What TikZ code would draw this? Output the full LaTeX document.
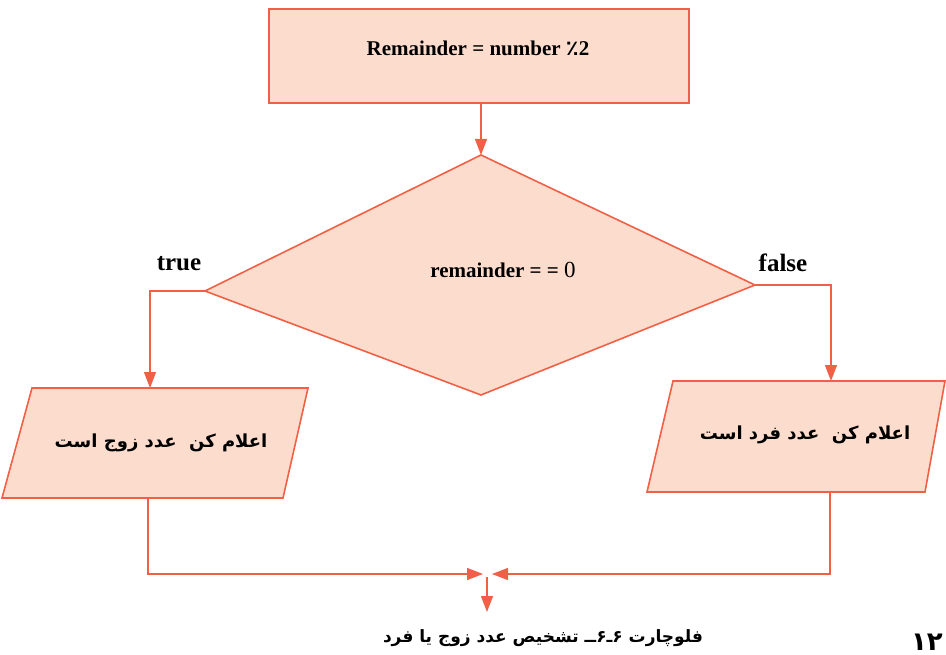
\documentclass[tikz,border=0pt]{standalone}
\usepackage{fontspec}
\setmainfont{Liberation Serif}
\newfontfamily\arabicfont[Script=Arabic]{DejaVu Sans}
\TeXXeTstate=1
\usetikzlibrary{arrows.meta}
\definecolor{fillc}{RGB}{252,221,205}
\definecolor{linec}{RGB}{240,96,70}
\begin{document}
\begin{tikzpicture}[x=1pt,y=-1pt,
  shapeline/.style={draw=linec,fill=fillc,line width=1.6pt,line join=miter},
  conn/.style={draw=linec,line width=1.4pt},
  arr/.style={conn,-{Triangle[length=16pt,width=12pt]}},
  lbl/.style={font=\fontsize{21}{24}\selectfont\bfseries,inner sep=0pt},
  tf/.style={font=\fontsize{25}{28}\selectfont\bfseries,inner sep=0pt},
  fa/.style={font=\arabicfont\fontsize{18}{21}\selectfont\bfseries,inner sep=0pt},
  captext/.style={font=\arabicfont\fontsize{17}{20}\selectfont\bfseries,inner sep=0pt}]
\useasboundingbox (0,0) rectangle (946,655);
% top box
\node[shapeline,anchor=north west,minimum width=420pt,minimum height=94pt,inner sep=0pt] (box) at (268,8) {};
\node[lbl] (boxtext) at (478,48) {Remainder = number {\arabicfont ٪}2};
% diamond
\coordinate (dT) at (481,155);
\coordinate (dR) at (755,285);
\coordinate (dB) at (481,395);
\coordinate (dL) at (205,291);
\path[shapeline] (dT) -- (dR) -- (dB) -- (dL) -- cycle;
\node[lbl] (dtext) at (503,270) {remainder = = {\mdseries\fontsize{23}{26}\selectfont 0}};
% labels
\node[tf] (true) at (179,264) {true};
\node[tf] (false) at (783,263) {false};
% left parallelogram
\coordinate (lpTop) at (150,388);
\coordinate (lpBot) at (148,498);
\path[shapeline] (32,388) -- (308,388) -- (283,498) -- (2,498) -- cycle;
\node[fa] (ltext) at (161,443) {\beginR اعلام کن\ \ عدد زوج است\endR};
% right parallelogram
\coordinate (rpTop) at (831,381);
\coordinate (rpBot) at (830,492);
\path[shapeline] (673,381) -- (945,381) -- (925,492) -- (647,492) -- cycle;
\node[fa] (rtext) at (805,435) {\beginR اعلام کن\ \ عدد فرد است\endR};
% connectors
\draw[arr] (dT |- box.south) -- (dT);
\draw[arr] (dL) -| (lpTop);
\draw[arr] (dR) -| (rpTop);
\coordinate (mL) at (483,574);
\coordinate (mR) at (492,574);
\coordinate (dStart) at (487,577);
\coordinate (dEnd) at (487,612);
\draw[arr] (lpBot) |- (mL);
\draw[arr] (rpBot) |- (mR);
\draw[arr] (dStart) -- (dEnd);
% caption
\node[captext] (caption) at (543,638) {\beginR فلوچارت ۶ـ۶ــ تشخیص عدد زوج یا فرد\endR};
\node[captext,font=\arabicfont\fontsize{26}{28}\selectfont\bfseries] (page) at (927,642) {۱۲};
\end{tikzpicture}
\end{document}
